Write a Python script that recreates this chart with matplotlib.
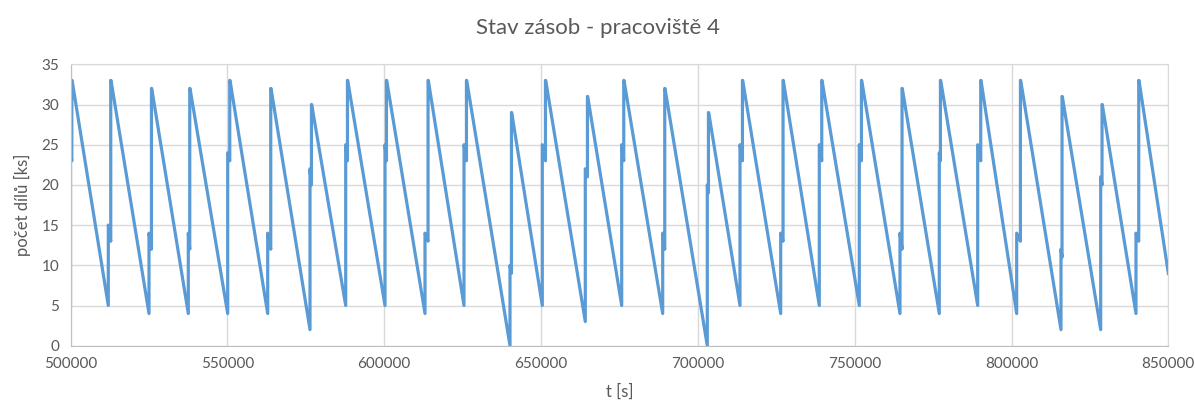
import matplotlib
matplotlib.use("Agg")
import matplotlib.pyplot as plt

excel_blue = "#5B9BD5"
text_gray = "#595959"
grid_gray = "#D9D9D9"

plt.rcParams['font.family'] = ['Lato', 'DejaVu Sans']

# one refill cycle per entry: time of refill start and time the stock peaks
t_refill = [500000, 512050, 525026, 537555, 550115, 562867, 576352, 587733,
            600262, 613015, 625448, 640113, 650410, 664118, 675722, 688793,
            703012, 713437, 726412, 738718, 751470, 764445, 776973, 789215,
            801648, 815771, 828427, 839681]
t_peak = [500500, 512911, 525887, 538097, 550849, 563919, 576894, 588371,
          600804, 614067, 626309, 640655, 651494, 664883, 676456, 689527,
          703458, 714298, 727241, 739579, 752235, 765178, 777420, 790267,
          802923, 816185, 828937, 840638]
# stock before refill, after first delivery, just before second delivery, peak
v_min = [5, 5, 4, 4, 4, 4, 2, 5, 5, 4, 5, 0, 5, 3, 5, 4,
         0, 5, 4, 5, 5, 4, 4, 5, 4, 2, 2, 4]
v_first = [24, 15, 14, 14, 24, 14, 22, 25, 25, 14, 25, 10, 25, 22, 25, 14,
           20, 25, 14, 25, 25, 14, 24, 25, 14, 12, 21, 14]
v_dip = [23, 13, 12, 12, 23, 12, 20, 23, 23, 13, 23, 9, 23, 21, 23, 12,
         19, 23, 13, 23, 23, 12, 23, 23, 13, 11, 20, 13]
v_peak = [33, 33, 32, 32, 33, 32, 30, 33, 33, 33, 33, 29, 33, 31, 33, 32,
          29, 33, 33, 33, 33, 32, 33, 33, 33, 31, 30, 33]
t_end = 850000
v_end = 9

t, v = [], []
for i in range(len(t_refill)):
    t0, tp = t_refill[i], t_peak[i]
    t += [t0, t0, tp - 80, tp - 80, tp]
    v += [v_min[i], v_first[i], v_dip[i], v_peak[i], v_peak[i]]
t.append(t_end)
v.append(v_end)

fig = plt.figure(figsize=(11.95, 4.05), dpi=100)
ax = fig.add_axes([0.059, 0.1464, 0.9187, 0.6948])
ax.plot(t, v, color=excel_blue, linewidth=2.3, solid_joinstyle='round')

ax.set_xlim(500000, 850000)
ax.set_ylim(0, 35)
ax.set_xticks(range(500000, 850001, 50000))
ax.set_yticks(range(0, 36, 5))
ax.grid(True, color=grid_gray, linewidth=1)
ax.set_axisbelow(True)
for s in ax.spines.values():
    s.set_color(grid_gray)
ax.spines['left'].set_color('#BFBFBF')
ax.spines['bottom'].set_color('#BFBFBF')
ax.tick_params(length=0, labelsize=11, labelcolor=text_gray, pad=8)

ax.set_xlabel("t [s]", fontsize=12, color=text_gray, labelpad=9)
ax.set_ylabel("počet dílů [ks]", fontsize=12, color=text_gray, labelpad=8)
fig.suptitle("Stav zásob - pracoviště 4", fontsize=16, color=text_gray, y=0.955)

fig.savefig("out.png", dpi=100)
